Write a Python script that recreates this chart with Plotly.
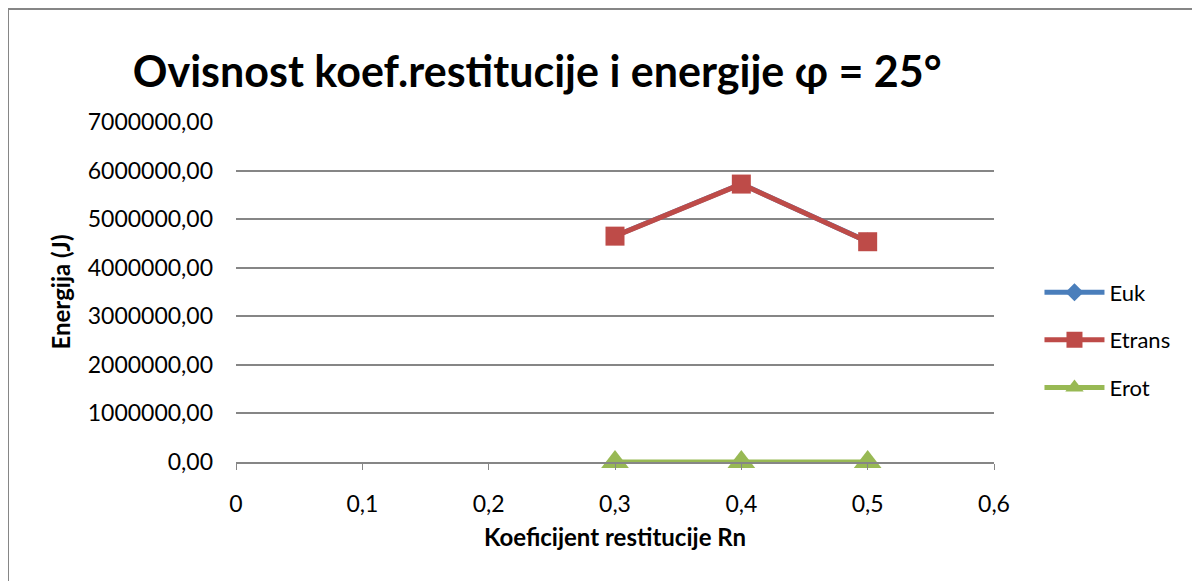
import plotly.graph_objects as go

rn = [0.3, 0.4, 0.5]
euk = [4652000, 5724000, 4537000]
etrans = [4650000, 5722000, 4535000]
erot = [2000, 2000, 2000]

x_ticks = [0, 0.1, 0.2, 0.3, 0.4, 0.5, 0.6]
x_tick_text = ["0", "0,1", "0,2", "0,3", "0,4", "0,5", "0,6"]
y_ticks = [0, 1000000, 2000000, 3000000, 4000000, 5000000, 6000000, 7000000]
y_tick_text = ["0,00", "1000000,00", "2000000,00", "3000000,00", "4000000,00",
               "5000000,00", "6000000,00", "7000000,00"]

FONT = "Lato"

fig = go.Figure()
fig.add_trace(go.Scatter(x=rn, y=euk, name="Euk", mode="lines+markers", legendgroup="a",
                         cliponaxis=False,
                         line=dict(color="#4A7EBB", width=5),
                         marker=dict(symbol="diamond", size=14, color="#4A7EBB")))
fig.add_trace(go.Scatter(x=rn, y=etrans, name="Etrans", mode="lines+markers", legendgroup="b",
                         cliponaxis=False,
                         line=dict(color="#BE4B48", width=5),
                         marker=dict(symbol="square", size=19, color="#BE4B48")))
fig.add_trace(go.Scatter(x=rn, y=erot, name="Erot", mode="lines+markers", legendgroup="c",
                         cliponaxis=False,
                         line=dict(color="#98B954", width=5),
                         marker=dict(symbol="triangle-up", size=24, color="#98B954")))

fig.update_layout(
    width=1200, height=581,
    margin=dict(l=228, r=214, t=114, b=127),
    paper_bgcolor="white", plot_bgcolor="white",
    font=dict(family=FONT, size=22, color="black"),
    title=dict(text="<b>Ovisnost koef.restitucije i energije φ = 25°</b>",
               x=0.441, xanchor="center", y=0.89, yanchor="middle",
               font=dict(size=43, family=FONT, color="black")),
    xaxis=dict(range=[0, 0.6], tickvals=x_ticks, ticktext=x_tick_text,
               showgrid=False, zeroline=False, showline=True,
               linecolor="#868686", linewidth=2,
               ticks="outside", ticklen=6, tickcolor="#868686",
               tickfont=dict(size=23), ticklabelstandoff=14,
               title=dict(text="<b>Koeficijent restitucije Rn</b>", font=dict(size=24), standoff=14)),
    yaxis=dict(range=[0, 7000000], tickvals=y_ticks, ticktext=y_tick_text,
               showgrid=True, gridcolor="#868686", gridwidth=2,
               zeroline=False, showline=False,
               ticks="", tickfont=dict(size=23), ticklabelstandoff=22,
               title=dict(text="<b>Energija (J)</b>", font=dict(size=24), standoff=10)),
    legend=dict(x=1.06, xanchor="left", y=0.359, yanchor="middle",
                font=dict(size=22), itemwidth=60, tracegroupgap=16,
                bgcolor="rgba(0,0,0,0)"),
    showlegend=True,
)

fig.add_shape(type="rect", xref="paper", yref="paper",
              x0=-0.3008, x1=1.35, y0=-0.45, y1=1.332,
              line=dict(color="#868686", width=2), layer="below")

fig.write_html("out.html")
